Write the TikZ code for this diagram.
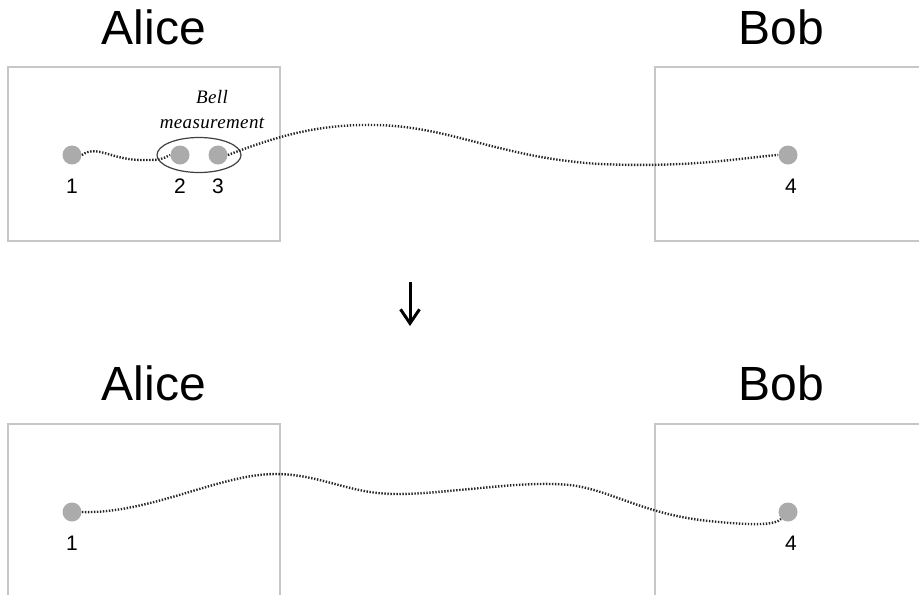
\documentclass[tikz,border=0pt]{standalone}
\usepackage{fontspec}
\setmainfont{Liberation Sans}
\newfontfamily\bellfont[LetterSpace=2]{Liberation Serif}
\usepackage{tikz}
\usetikzlibrary{shapes.geometric, arrows.meta, positioning}

\begin{document}
\begin{tikzpicture}[
            x=0.5pt, y=-0.5pt,
            every node/.style={font=\fontsize{10.5}{12}\selectfont},
            party/.style={draw=black!22, line width=0.8pt},
            who/.style={font=\fontsize{24}{26}\selectfont},
            qubit/.style={
                circle,
                fill=black!33,
                inner sep=0pt,
                minimum size=9.5pt
            },
            num/.style={inner sep=0pt, below=7pt of #1},
            entangle/.style={
                draw=black!85,
                line width=1.2pt,
                dash pattern=on 0.7pt off 0.8pt
            },
            arrow/.style={-{Straight Barb[length=7pt, width=9.5pt]}, line width=1.5pt}
        ]
        \clip (0,0) rectangle (919,594);

        % Labs
        \draw[party] (8,67) rectangle (280,241);
        \draw[party] (655,67) rectangle (930,241);
        \draw[party] (8,424) rectangle (280,600);
        \draw[party] (655,424) rectangle (930,600);
        \node[who] (alice) at (154,27) {Alice};
        \node[who] (bob) at (781,27) {Bob};
        \node[who] (alice2) at (154,383) {Alice};
        \node[who] (bob2) at (781,383) {Bob};

        % Before the measurement
        \node[qubit] (q1) at (72,155) {};
        \node[qubit] (q2) at (180,155) {};
        \node[qubit] (q3) at (218,155) {};
        \node[qubit] (q4) at (788,155) {};
        \node[num=q1] {1};
        \node[num=q2] {2};
        \node[num=q3] {3};
        \node[num=q4, xshift=1.5pt] {4};
        \node[draw=black!75, line width=0.6pt, ellipse, inner sep=0pt,
              minimum width=42pt, minimum height=17.5pt] (bell) at (199,155) {};
        \node[align=center, font=\bellfont\itshape\fontsize{9.5}{12.5}\selectfont]
            (bm) at (212,110) {Bell\\measurement};

        \draw[entangle] (q1.east) .. controls (98,144) and (112,161) .. (145,160)
            .. controls (160,160) .. (q2.west);
        \draw[entangle] (q3.east) .. controls (280,135) and (320,124) .. (375,125)
            .. controls (450,126) and (500,158) .. (600,164)
            .. controls (690,168) and (740,158) .. (q4.west);

        % Arrow
        \coordinate (from) at (410,282);
        \coordinate (to) at (410,326);
        \draw[arrow] (from) -- (to);

        % After the measurement
        \node[qubit] (p1) at (72,512) {};
        \node[qubit] (p4) at (788,512) {};
        \node[num=p1] {1};
        \node[num=p4, xshift=1.5pt] {4};

        \draw[entangle] (p1.east) .. controls (150,514) and (220,474) .. (275,474)
            .. controls (320,474) and (350,494) .. (395,494)
            .. controls (450,494) and (520,480) .. (570,485)
            .. controls (610,490) and (640,512) .. (700,520)
            .. controls (760,527) and (776,524) .. (p4.south west);

        \end{tikzpicture}
\end{document}
